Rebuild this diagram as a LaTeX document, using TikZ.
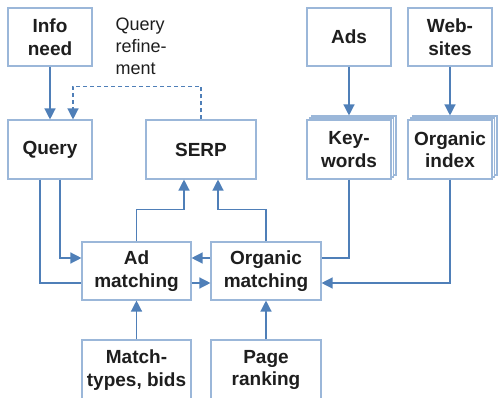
\documentclass[tikz,border=0pt]{standalone}
\usepackage{fontspec}
\setmainfont{Liberation Sans}
\usetikzlibrary{arrows.meta}
\definecolor{boxline}{HTML}{9BB7D9}
\definecolor{conn}{HTML}{4F7FB8}
\definecolor{txt}{HTML}{1E1E1E}
\tikzset{
  box/.style={draw=boxline, line width=1.1pt, fill=white, inner sep=0pt, align=center,
    text=txt, font=\bfseries\fontsize{19}{22.5}\selectfont},
  conline/.style={draw=conn, line width=1.3pt},
  arr/.style={conline, -{Triangle[length=11pt,width=11pt]}},
  note/.style={text=txt, font=\fontsize{18}{21.7}\selectfont, align=left, inner sep=0pt}
}
\begin{document}
\begin{tikzpicture}[x=1pt,y=-1pt]
\useasboundingbox (0,0) rectangle (498,398);
\clip (0,0) rectangle (498,398);
% boxes
\node[box, minimum width=84, minimum height=58] (info) at (50,37) {Info\\need};
\node[box, minimum width=84, minimum height=59] (query) at (50,149.5) {Query};
\node[box, minimum width=110, minimum height=59] (serp) at (201,149.5) {SERP};
\node[box, minimum width=84, minimum height=58] (ads) at (349,37) {Ads};
\node[box, minimum width=84, minimum height=58] (web) at (450,37) {Web-\\sites};
\node[box, minimum width=84, minimum height=59] (kwb2) at (354,145.5) {};
\node[box, minimum width=84, minimum height=59] (kwb1) at (351.5,147.5) {};
\node[box, minimum width=84, minimum height=59] (kw) at (349,149.5) {Key-\\words};
\node[box, minimum width=84, minimum height=59] (oib2) at (455,145.5) {};
\node[box, minimum width=84, minimum height=59] (oib1) at (452.5,147.5) {};
\node[box, minimum width=84, minimum height=59] (oi) at (450,149.5) {Organic\\index};
\node[box, minimum width=109, minimum height=58] (adm) at (136.5,271) {Ad\\matching};
\node[box, minimum width=110, minimum height=58] (orgm) at (266,271) {Organic\\matching};
\node[box, minimum width=109, minimum height=60] (mt) at (136.5,370) {Match-\\types, bids};
\node[box, minimum width=110, minimum height=60] (pr) at (266,370) {Page\\ranking};
\node[note, anchor=north west] (qr) at (115.5,18) {Query\\refine-\\ment};
% connectors
\draw[arr] (info) -- (query);
\draw[arr, dashed, dash pattern=on 4pt off 3pt] (serp.north) -- ++(0,-33) -| ([xshift=23pt]query.north);
\draw[conline] ([xshift=-10pt]query.south) |- ([yshift=-12pt]adm.west);
\draw[arr] ([xshift=10pt]query.south) |- ([yshift=13pt]adm.west);
\draw[arr] ([yshift=-12pt]adm.east) -- ([yshift=-12pt]orgm.west);
\draw[arr] ([yshift=13pt]orgm.west) -- ([yshift=13pt]adm.east);
\draw[arr] (adm.north) -- ++(0,-32) -| ([xshift=-17pt]serp.south);
\draw[arr] (orgm.north) -- ++(0,-32) -| ([xshift=17pt]serp.south);
\draw[conline] (kw.south) |- ([yshift=13pt]orgm.east);
\draw[arr] (oi.south) |- ([yshift=-12pt]orgm.east);
\draw[arr] (ads) -- ([yshift=4pt]kw.north);
\draw[arr] (web) -- ([yshift=4pt]oi.north);
\draw[arr] (mt) -- (adm);
\draw[arr] (pr) -- (orgm);
\end{tikzpicture}
\end{document}
